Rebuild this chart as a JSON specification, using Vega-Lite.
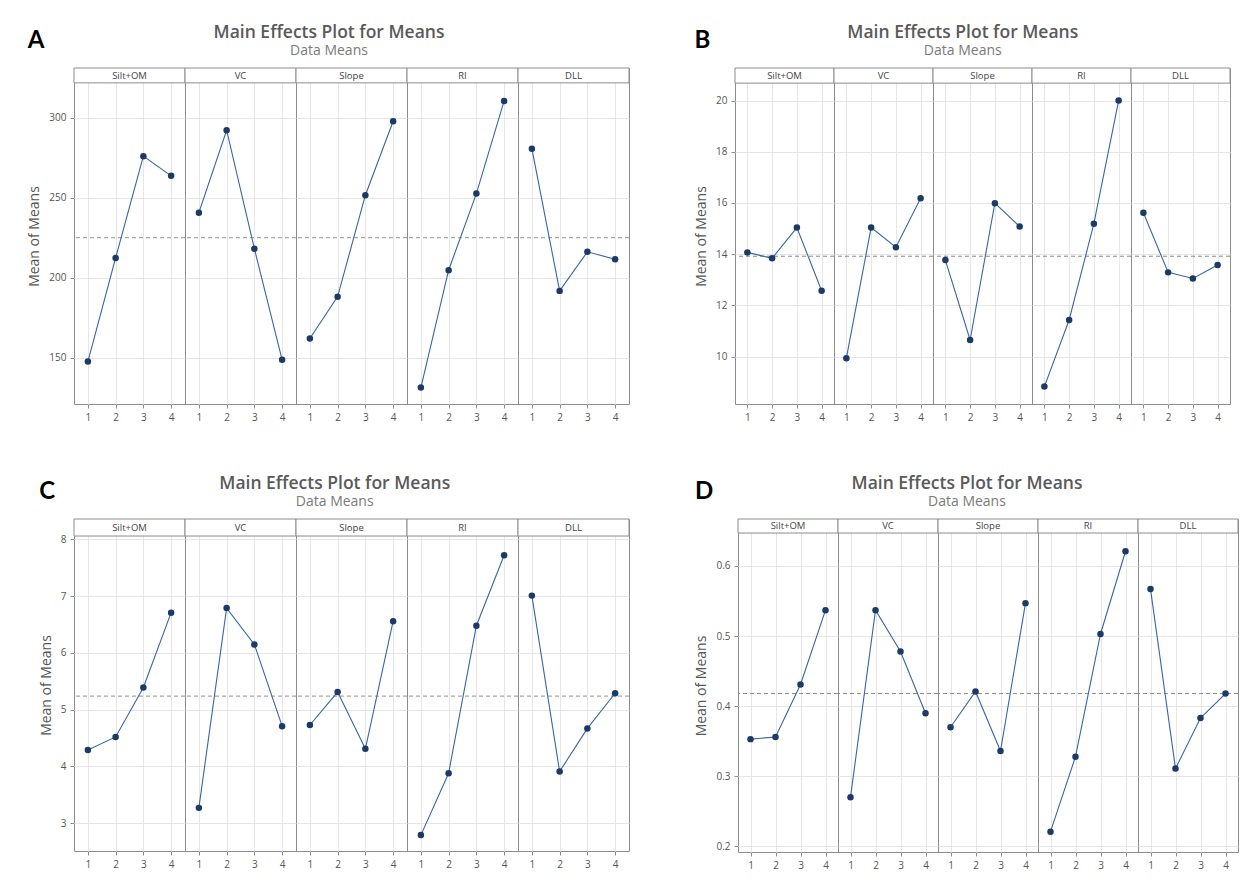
{
  "$schema": "https://vega.github.io/schema/vega-lite/v6.json",
  "background": "white",
  "padding": {"left": 27, "top": 23, "right": 5, "bottom": 5},
  "datasets": {
    "A": [
      {"factor": "Silt+OM", "level": 1, "mean": 147.5}, {"factor": "Silt+OM", "level": 2, "mean": 212.3}, {"factor": "Silt+OM", "level": 3, "mean": 275.9}, {"factor": "Silt+OM", "level": 4, "mean": 263.6},
      {"factor": "VC", "level": 1, "mean": 240.6}, {"factor": "VC", "level": 2, "mean": 292.1}, {"factor": "VC", "level": 3, "mean": 218.1}, {"factor": "VC", "level": 4, "mean": 148.6},
      {"factor": "Slope", "level": 1, "mean": 161.9}, {"factor": "Slope", "level": 2, "mean": 188.1}, {"factor": "Slope", "level": 3, "mean": 251.5}, {"factor": "Slope", "level": 4, "mean": 297.7},
      {"factor": "RI", "level": 1, "mean": 131.3}, {"factor": "RI", "level": 2, "mean": 204.6}, {"factor": "RI", "level": 3, "mean": 252.5}, {"factor": "RI", "level": 4, "mean": 310.4},
      {"factor": "DLL", "level": 1, "mean": 280.6}, {"factor": "DLL", "level": 2, "mean": 191.7}, {"factor": "DLL", "level": 3, "mean": 216.1}, {"factor": "DLL", "level": 4, "mean": 211.5}
    ],
    "B": [
      {"factor": "Silt+OM", "level": 1, "mean": 14.07}, {"factor": "Silt+OM", "level": 2, "mean": 13.84}, {"factor": "Silt+OM", "level": 3, "mean": 15.04}, {"factor": "Silt+OM", "level": 4, "mean": 12.57},
      {"factor": "VC", "level": 1, "mean": 9.94}, {"factor": "VC", "level": 2, "mean": 15.04}, {"factor": "VC", "level": 3, "mean": 14.27}, {"factor": "VC", "level": 4, "mean": 16.18},
      {"factor": "Slope", "level": 1, "mean": 13.77}, {"factor": "Slope", "level": 2, "mean": 10.65}, {"factor": "Slope", "level": 3, "mean": 15.99}, {"factor": "Slope", "level": 4, "mean": 15.08},
      {"factor": "RI", "level": 1, "mean": 8.83}, {"factor": "RI", "level": 2, "mean": 11.43}, {"factor": "RI", "level": 3, "mean": 15.19}, {"factor": "RI", "level": 4, "mean": 20.0},
      {"factor": "DLL", "level": 1, "mean": 15.62}, {"factor": "DLL", "level": 2, "mean": 13.29}, {"factor": "DLL", "level": 3, "mean": 13.05}, {"factor": "DLL", "level": 4, "mean": 13.58}
    ],
    "C": [
      {"factor": "Silt+OM", "level": 1, "mean": 4.29}, {"factor": "Silt+OM", "level": 2, "mean": 4.52}, {"factor": "Silt+OM", "level": 3, "mean": 5.39}, {"factor": "Silt+OM", "level": 4, "mean": 6.71},
      {"factor": "VC", "level": 1, "mean": 3.27}, {"factor": "VC", "level": 2, "mean": 6.79}, {"factor": "VC", "level": 3, "mean": 6.15}, {"factor": "VC", "level": 4, "mean": 4.71},
      {"factor": "Slope", "level": 1, "mean": 4.73}, {"factor": "Slope", "level": 2, "mean": 5.31}, {"factor": "Slope", "level": 3, "mean": 4.31}, {"factor": "Slope", "level": 4, "mean": 6.56},
      {"factor": "RI", "level": 1, "mean": 2.79}, {"factor": "RI", "level": 2, "mean": 3.88}, {"factor": "RI", "level": 3, "mean": 6.48}, {"factor": "RI", "level": 4, "mean": 7.72},
      {"factor": "DLL", "level": 1, "mean": 7.01}, {"factor": "DLL", "level": 2, "mean": 3.91}, {"factor": "DLL", "level": 3, "mean": 4.67}, {"factor": "DLL", "level": 4, "mean": 5.29}
    ],
    "D": [
      {"factor": "Silt+OM", "level": 1, "mean": 0.353}, {"factor": "Silt+OM", "level": 2, "mean": 0.356}, {"factor": "Silt+OM", "level": 3, "mean": 0.431}, {"factor": "Silt+OM", "level": 4, "mean": 0.537},
      {"factor": "VC", "level": 1, "mean": 0.270}, {"factor": "VC", "level": 2, "mean": 0.537}, {"factor": "VC", "level": 3, "mean": 0.478}, {"factor": "VC", "level": 4, "mean": 0.390},
      {"factor": "Slope", "level": 1, "mean": 0.370}, {"factor": "Slope", "level": 2, "mean": 0.421}, {"factor": "Slope", "level": 3, "mean": 0.336}, {"factor": "Slope", "level": 4, "mean": 0.547},
      {"factor": "RI", "level": 1, "mean": 0.221}, {"factor": "RI", "level": 2, "mean": 0.328}, {"factor": "RI", "level": 3, "mean": 0.503}, {"factor": "RI", "level": 4, "mean": 0.621},
      {"factor": "DLL", "level": 1, "mean": 0.567}, {"factor": "DLL", "level": 2, "mean": 0.311}, {"factor": "DLL", "level": 3, "mean": 0.383}, {"factor": "DLL", "level": 4, "mean": 0.418}
    ]
  },
  "spacing": 52,
  "vconcat": [
    {
      "spacing": 63,
      "hconcat": [
        {
          "title": {"text": "A", "anchor": "start", "font": "Lato", "fontSize": 24, "fontWeight": "bold", "color": "#000000", "offset": -29, "dx": 0},
          "vconcat": [{
            "data": {"name": "A"},
            "title": {"text": "Main Effects Plot for Means", "subtitle": "Data Means"},
            "facet": {"column": {"field": "factor", "type": "nominal", "sort": ["Silt+OM", "VC", "Slope", "RI", "DLL"], "header": null}},
            "spacing": 0,
            "bounds": "flush",
            "spec": {
              "width": 111, "height": 336,
              "encoding": {
                "x": {"field": "level", "type": "quantitative", "scale": {"domain": [0.5, 4.5], "nice": false, "zero": false}, "axis": {"values": [1, 2, 3, 4], "format": "d", "title": null, "labelOverlap": false, "labelFlush": false}},
                "y": {"field": "mean", "type": "quantitative", "scale": {"domain": [121, 331], "nice": false, "zero": false}, "axis": {"values": [150, 200, 250, 300], "format": "d", "title": "Mean of Means"}}
              },
              "layer": [
                {"transform": [{"filter": "datum.level == 1"}], "mark": {"type": "rect", "fill": "white", "stroke": "#8c8c8c", "strokeWidth": 1},
                 "encoding": {"x": {"datum": 0.5, "type": "quantitative"}, "x2": {"datum": 4.5}, "y": {"datum": 321.7, "type": "quantitative"}, "y2": {"datum": 331}}},
                {"transform": [{"filter": "datum.level == 1"}], "mark": {"type": "text", "fontSize": 9.5, "color": "#444444"},
                 "encoding": {"x": {"datum": 2.5, "type": "quantitative"}, "y": {"datum": 326.3, "type": "quantitative"}, "text": {"field": "factor"}}},
                {"transform": [{"filter": "datum.level == 1"}], "mark": {"type": "rule", "color": "#a8a8a8", "strokeDash": [4, 3], "strokeWidth": 1.3},
                 "encoding": {"x": null, "y": {"datum": 225.0, "type": "quantitative"}}},
                {"mark": {"type": "line", "color": "#3567a6", "strokeWidth": 1.1}},
                {"mark": {"type": "point", "filled": true, "color": "#1c3a66", "size": 42, "opacity": 1}}
              ]
            }
          }]
        },
        {
          "title": {"text": "B", "anchor": "start", "font": "Lato", "fontSize": 24, "fontWeight": "bold", "color": "#000000", "offset": -29, "dx": 0},
          "vconcat": [{
            "data": {"name": "B"},
            "title": {"text": "Main Effects Plot for Means", "subtitle": "Data Means"},
            "facet": {"column": {"field": "factor", "type": "nominal", "sort": ["Silt+OM", "VC", "Slope", "RI", "DLL"], "header": null}},
            "spacing": 0,
            "bounds": "flush",
            "spec": {
              "width": 99, "height": 336,
              "encoding": {
                "x": {"field": "level", "type": "quantitative", "scale": {"domain": [0.5, 4.5], "nice": false, "zero": false}, "axis": {"values": [1, 2, 3, 4], "format": "d", "title": null, "labelOverlap": false, "labelFlush": false}},
                "y": {"field": "mean", "type": "quantitative", "scale": {"domain": [8.15, 21.27], "nice": false, "zero": false}, "axis": {"values": [10, 12, 14, 16, 18, 20], "format": "d", "title": "Mean of Means"}}
              },
              "layer": [
                {"transform": [{"filter": "datum.level == 1"}], "mark": {"type": "rect", "fill": "white", "stroke": "#8c8c8c", "strokeWidth": 1},
                 "encoding": {"x": {"datum": 0.5, "type": "quantitative"}, "x2": {"datum": 4.5}, "y": {"datum": 20.68, "type": "quantitative"}, "y2": {"datum": 21.27}}},
                {"transform": [{"filter": "datum.level == 1"}], "mark": {"type": "text", "fontSize": 9.5, "color": "#444444"},
                 "encoding": {"x": {"datum": 2.5, "type": "quantitative"}, "y": {"datum": 20.975, "type": "quantitative"}, "text": {"field": "factor"}}},
                {"transform": [{"filter": "datum.level == 1"}], "mark": {"type": "rule", "color": "#8a8a8a", "strokeDash": [4, 3], "strokeWidth": 1},
                 "encoding": {"x": null, "y": {"datum": 13.92, "type": "quantitative"}}},
                {"mark": {"type": "line", "color": "#3567a6", "strokeWidth": 1.1}},
                {"mark": {"type": "point", "filled": true, "color": "#1c3a66", "size": 42, "opacity": 1}}
              ]
            }
          }]
        }
      ]
    },
    {
      "spacing": 63,
      "hconcat": [
        {
          "title": {"text": "C", "anchor": "start", "font": "Lato", "fontSize": 24, "fontWeight": "bold", "color": "#000000", "offset": -29, "dx": 0},
          "vconcat": [{
            "data": {"name": "C"},
            "title": {"text": "Main Effects Plot for Means", "subtitle": "Data Means"},
            "facet": {"column": {"field": "factor", "type": "nominal", "sort": ["Silt+OM", "VC", "Slope", "RI", "DLL"], "header": null}},
            "spacing": 0,
            "bounds": "flush",
            "spec": {
              "width": 111, "height": 332,
              "encoding": {
                "x": {"field": "level", "type": "quantitative", "scale": {"domain": [0.5, 4.5], "nice": false, "zero": false}, "axis": {"values": [1, 2, 3, 4], "format": "d", "title": null, "labelOverlap": false, "labelFlush": false}},
                "y": {"field": "mean", "type": "quantitative", "scale": {"domain": [2.51, 8.36], "nice": false, "zero": false}, "axis": {"values": [3, 4, 5, 6, 7, 8], "format": "d", "title": "Mean of Means"}}
              },
              "layer": [
                {"transform": [{"filter": "datum.level == 1"}], "mark": {"type": "rect", "fill": "white", "stroke": "#8c8c8c", "strokeWidth": 1},
                 "encoding": {"x": {"datum": 0.5, "type": "quantitative"}, "x2": {"datum": 4.5}, "y": {"datum": 8.06, "type": "quantitative"}, "y2": {"datum": 8.36}}},
                {"transform": [{"filter": "datum.level == 1"}], "mark": {"type": "text", "fontSize": 9.5, "color": "#444444"},
                 "encoding": {"x": {"datum": 2.5, "type": "quantitative"}, "y": {"datum": 8.21, "type": "quantitative"}, "text": {"field": "factor"}}},
                {"transform": [{"filter": "datum.level == 1"}], "mark": {"type": "rule", "color": "#a8a8a8", "strokeDash": [4, 3], "strokeWidth": 1.3},
                 "encoding": {"x": null, "y": {"datum": 5.24, "type": "quantitative"}}},
                {"mark": {"type": "line", "color": "#3567a6", "strokeWidth": 1.1}},
                {"mark": {"type": "point", "filled": true, "color": "#1c3a66", "size": 42, "opacity": 1}}
              ]
            }
          }]
        },
        {
          "title": {"text": "D", "anchor": "start", "font": "Lato", "fontSize": 24, "fontWeight": "bold", "color": "#000000", "offset": -29, "dx": 0},
          "vconcat": [{
            "data": {"name": "D"},
            "title": {"text": "Main Effects Plot for Means", "subtitle": "Data Means"},
            "facet": {"column": {"field": "factor", "type": "nominal", "sort": ["Silt+OM", "VC", "Slope", "RI", "DLL"], "header": null}},
            "spacing": 0,
            "bounds": "flush",
            "spec": {
              "width": 100, "height": 333,
              "encoding": {
                "x": {"field": "level", "type": "quantitative", "scale": {"domain": [0.5, 4.5], "nice": false, "zero": false}, "axis": {"values": [1, 2, 3, 4], "format": "d", "title": null, "labelOverlap": false, "labelFlush": false}},
                "y": {"field": "mean", "type": "quantitative", "scale": {"domain": [0.192, 0.667], "nice": false, "zero": false}, "axis": {"values": [0.2, 0.3, 0.4, 0.5, 0.6], "format": ".1f", "title": "Mean of Means"}}
              },
              "layer": [
                {"transform": [{"filter": "datum.level == 1"}], "mark": {"type": "rect", "fill": "white", "stroke": "#8c8c8c", "strokeWidth": 1},
                 "encoding": {"x": {"datum": 0.5, "type": "quantitative"}, "x2": {"datum": 4.5}, "y": {"datum": 0.647, "type": "quantitative"}, "y2": {"datum": 0.667}}},
                {"transform": [{"filter": "datum.level == 1"}], "mark": {"type": "text", "fontSize": 9.5, "color": "#444444"},
                 "encoding": {"x": {"datum": 2.5, "type": "quantitative"}, "y": {"datum": 0.657, "type": "quantitative"}, "text": {"field": "factor"}}},
                {"transform": [{"filter": "datum.level == 1"}], "mark": {"type": "rule", "color": "#8a8a8a", "strokeDash": [4, 3], "strokeWidth": 1},
                 "encoding": {"x": null, "y": {"datum": 0.418, "type": "quantitative"}}},
                {"mark": {"type": "line", "color": "#3567a6", "strokeWidth": 1.1}},
                {"mark": {"type": "point", "filled": true, "color": "#1c3a66", "size": 42, "opacity": 1}}
              ]
            }
          }]
        }
      ]
    }
  ],
  "config": {
    "font": "Open Sans",
    "view": {"stroke": "#8c8c8c", "strokeWidth": 1},
    "title": {"fontSize": 17.5, "fontWeight": 600, "color": "#5a5a5a", "subtitleFontSize": 14, "subtitleColor": "#7a7a7a", "subtitlePadding": 3, "offset": 9, "anchor": "middle"},
    "axis": {"grid": true, "gridColor": "#e6e6e6", "gridWidth": 1, "domain": false, "tickColor": "#8c8c8c", "tickSize": 4, "labelFontSize": 10, "labelColor": "#555555", "titleFontSize": 14, "titleFontWeight": "normal", "titleColor": "#555555", "labelPadding": 4, "labelOverlap": false, "labelFlush": false},
    "axisY": {"titlePadding": 7}
  }
}
